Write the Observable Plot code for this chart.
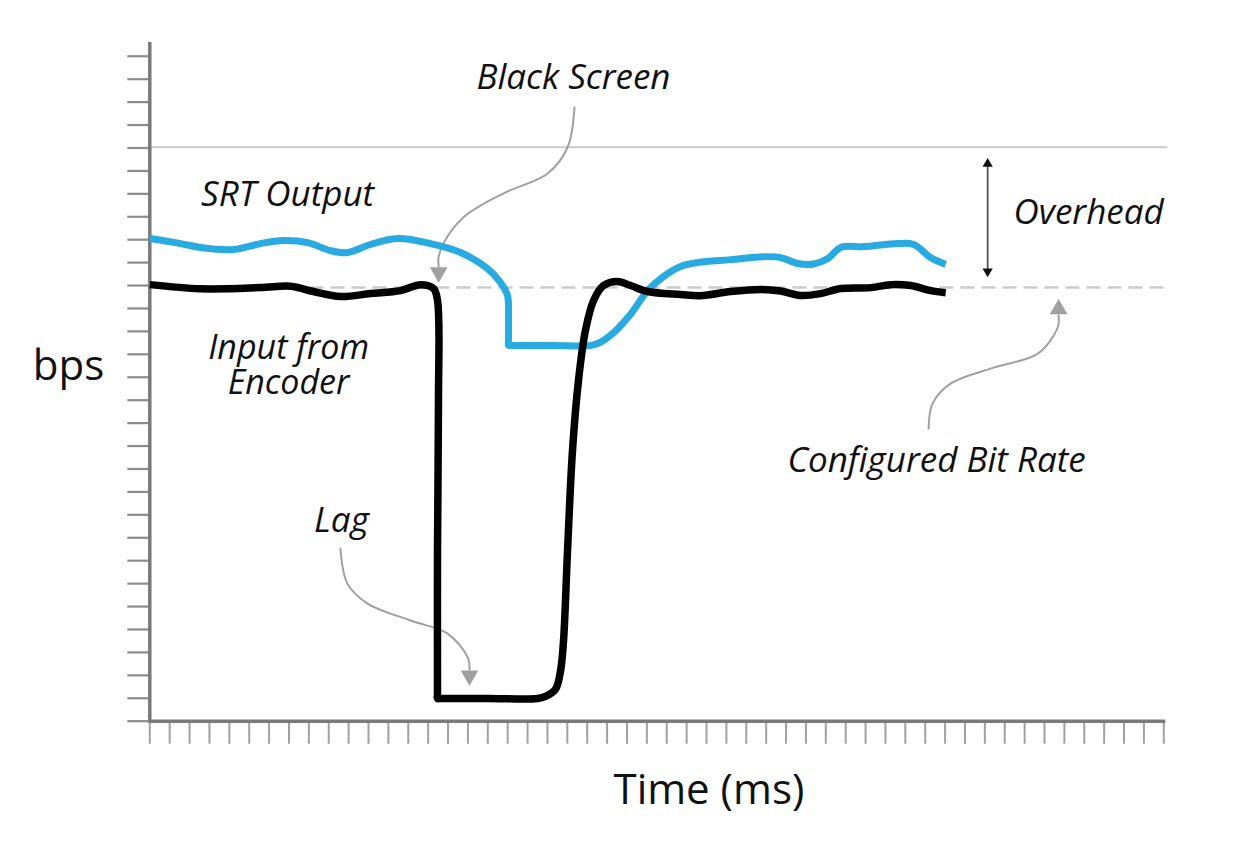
<!DOCTYPE html>
<html>
<head>
<meta charset="utf-8">
<script src="https://cdn.jsdelivr.net/npm/d3@7"></script>
<script src="https://cdn.jsdelivr.net/npm/@observablehq/plot@0.6"></script>
<style>
  html, body { margin: 0; padding: 0; background: #fff; }
  #chart svg { display: block; overflow: visible; }
</style>
</head>
<body>
<div id="chart"></div>
<script>
// ---- tick positions ----
const xTicks = d3.range(0, 52);
const yTicks = d3.range(0, 30);

// ---- configured bit rate and capacity levels ----
const configuredRate = 18.91;
const capacityLevel = 25.03;

// ---- Input from Encoder (black) ----
const inputX = [0, 2.56, 5.57, 7.08, 8.23, 9.59, 11.10, 12.61, 13.62, 14.27, 14.47, 14.52, 14.47, 14.47, 14.47, 14.6, 17.0, 19.50, 19.90, 20.41, 20.66, 20.81, 21.01, 21.26, 21.56, 21.91, 22.32, 22.82, 23.53, 24.18, 25.04, 26.70, 27.70, 29.21, 30.72, 31.73, 32.73, 33.74, 34.75, 36.26, 37.26, 38.27, 39.27, 40.03];
const inputY = [19.04, 18.86, 18.91, 18.97, 18.74, 18.52, 18.65, 18.78, 19.04, 18.87, 18.35, 13.99, 7.44, 1.2, 0.99, 0.99, 0.99, 0.99, 1.08, 1.40, 2.21, 3.52, 7.44, 11.81, 14.86, 17.04, 18.35, 19.00, 19.18, 19.00, 18.74, 18.61, 18.56, 18.74, 18.83, 18.76, 18.57, 18.65, 18.87, 18.91, 19.04, 19.00, 18.78, 18.69];

// ---- SRT Output (blue) ----
const srtX = [0, 1.55, 2.56, 4.21, 5.57, 6.73, 7.94, 9.09, 9.95, 11.10, 12.46, 14.12, 15.63, 16.98, 17.64, 17.99, 18.04, 18.04, 18.04, 18.2, 20.3, 22.2, 22.6, 23.33, 24.18, 25.04, 25.85, 26.70, 27.55, 29.21, 30.87, 31.73, 32.58, 33.39, 34.10, 34.75, 35.91, 37.62, 38.42, 39.27, 40.03];
const srtY = [21.05, 20.83, 20.66, 20.57, 20.83, 20.96, 20.87, 20.52, 20.44, 20.79, 21.05, 20.83, 20.44, 19.74, 19.13, 18.57, 17.48, 16.6, 16.39, 16.39, 16.39, 16.39, 16.50, 16.95, 17.75, 18.78, 19.40, 19.83, 20.00, 20.13, 20.26, 20.22, 19.96, 19.94, 20.18, 20.66, 20.70, 20.83, 20.79, 20.22, 19.92];

// ---- annotation arrows (curved leaders) ----
const blackScreenArrowX = [21.36, 21.01, 20.01, 17.79, 15.78, 14.77, 14.52, 14.53];
const blackScreenArrowY = [26.76, 25.02, 23.89, 23.02, 21.98, 20.84, 20.2, 19.83];
const lagArrowX = [9.59, 9.94, 10.95, 13.12, 14.98, 15.99, 16.08];
const lagArrowY = [7.53, 6.00, 5.13, 4.39, 3.82, 2.78, 2.25];
const rateArrowX = [39.17, 39.37, 40.27, 42.44, 44.66, 45.66, 45.71];
const rateArrowY = [12.76, 13.85, 14.72, 15.42, 16.03, 17.16, 17.70];

// arrowheads: x, y, rotation
const headX = [14.53, 16.08, 45.71];
const headY = [19.57, 1.99, 17.97];
const headRot = [180, 180, 0];

// overhead double arrow
const overheadX = 42.14;
const overheadY1 = 19.48;
const overheadY2 = 24.45;
const overheadHeadY = [24.31, 19.62];
const overheadHeadRot = [0, 180];

// ---- labels ----
const labelText = ["Black Screen", "SRT Output", "Input from\nEncoder", "Lag", "Overhead", "Configured Bit Rate"];
const labelX = [21.31, 6.93, 6.98, 9.64, 47.22, 39.57];
const labelY = [27.59, 22.49, 14.29, 8.23, 21.70, 10.85];

const axisTitleText = ["bps", "Time (ms)"];
const axisTitleX = [-4.09, 28.12];
const axisTitleY = [14.86, -3.59];

const idx = a => d3.range(a.length);
const FONT = "Open Sans";

const chart = Plot.plot({
  width: 1252,
  height: 854,
  marginLeft: 149.3,
  marginRight: 88.7,
  marginTop: 42,
  marginBottom: 133.3,
  x: {domain: [0, 51], axis: null},
  y: {domain: [0, 29.6], axis: null},
  style: {background: "#fff", fontFamily: FONT},
  marks: [
    // capacity line
    Plot.ruleY([capacityLevel], {x1: 0, x2: 51.2, stroke: "#c9c9c9", strokeWidth: 2}),
    // configured bit rate dashed
    Plot.ruleY([configuredRate], {x1: 7, x2: 51.2, stroke: "#cccccc", strokeWidth: 2.5, strokeDasharray: "14,7"}),
    // ticks
    Plot.axisY(yTicks, {anchor: "left", tickSize: 22, tickFormat: () => "", label: null, stroke: "#8c8c8c", strokeWidth: 2.2}),
    Plot.axisX(xTicks, {anchor: "bottom", tickSize: 23, tickFormat: () => "", label: null, stroke: "#a0a0a0", strokeWidth: 2}),
    // axis lines
    Plot.ruleX([0], {y1: 0, y2: 29.6, stroke: "#7a7a7a", strokeWidth: 3.5}),
    Plot.ruleY([0], {x1: -0.05, x2: 51.1, stroke: "#7a7a7a", strokeWidth: 3.5}),
    // leader arrows
    Plot.line(idx(blackScreenArrowX), {x: i => blackScreenArrowX[i], y: i => blackScreenArrowY[i], curve: "catmull-rom", stroke: "#a0a0a0", strokeWidth: 2}),
    Plot.line(idx(lagArrowX), {x: i => lagArrowX[i], y: i => lagArrowY[i], curve: "catmull-rom", stroke: "#a0a0a0", strokeWidth: 2}),
    Plot.line(idx(rateArrowX), {x: i => rateArrowX[i], y: i => rateArrowY[i], curve: "catmull-rom", stroke: "#a0a0a0", strokeWidth: 2}),
    Plot.dot(idx(headX), {x: i => headX[i], y: i => headY[i], rotate: i => headRot[i], symbol: "triangle", r: 6.6, fill: "#a0a0a0", stroke: "none"}),
    // overhead double arrow
    Plot.ruleX([overheadX], {y1: overheadY1, y2: overheadY2, stroke: "#555", strokeWidth: 1.8}),
    Plot.dot(idx(overheadHeadY), {x: () => overheadX, y: i => overheadHeadY[i], rotate: i => overheadHeadRot[i], symbol: "triangle", r: 3.8, fill: "#111", stroke: "none"}),
    // series
    Plot.line(idx(srtX), {x: i => srtX[i], y: i => srtY[i], curve: "catmull-rom", stroke: "#29abe2", strokeWidth: 7, strokeLinejoin: "round", strokeLinecap: "butt"}),
    Plot.line(idx(inputX), {x: i => inputX[i], y: i => inputY[i], curve: "catmull-rom", stroke: "#000", strokeWidth: 7.5, strokeLinejoin: "round", strokeLinecap: "butt"}),
    // labels
    Plot.text(idx(labelText), {x: i => labelX[i], y: i => labelY[i], text: i => labelText[i], lineAnchor: "bottom", lineHeight: 1.02, textAnchor: "middle", fontFamily: FONT, fontStyle: "italic", fontSize: i => labelText[i].includes("\n") ? 34 : 35, fill: "#111"}),
    Plot.text(idx(axisTitleText), {x: i => axisTitleX[i], y: i => axisTitleY[i], text: i => axisTitleText[i], lineAnchor: "bottom", textAnchor: "middle", fontFamily: FONT, fontSize: 42, fill: "#111"})
  ]
});
document.getElementById("chart").appendChild(chart);
</script>
</body>
</html>
